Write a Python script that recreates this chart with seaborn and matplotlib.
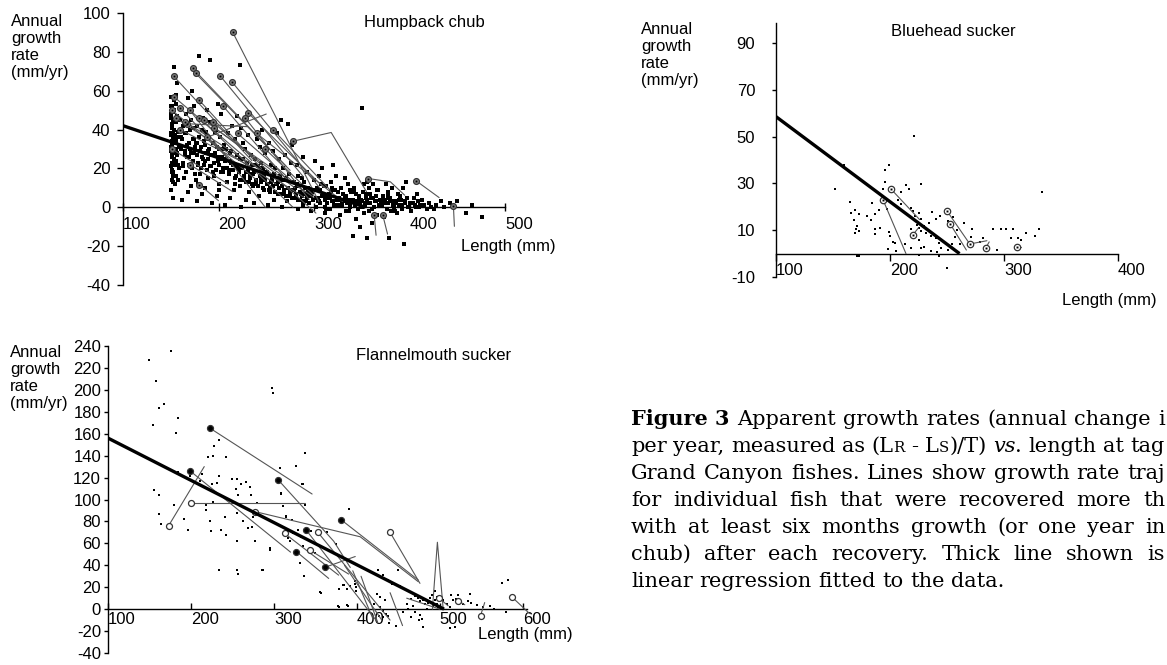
import matplotlib
matplotlib.use("Agg")
import matplotlib.pyplot as plt
import seaborn as sns
import pandas as pd

# ---------------- data ----------------
# Humpback chub: length at tagging (mm) and annual growth rate (mm/yr)
hb_len = [150,151,152,150,153,151,152,150,151,153,152,150,153,151,150,152,151,153,150,151,152,150,153,152,
          152,154,156,151,158,153,157,155,159,152,156,154,158,151,155,157,153,156,155,157,153,159,151,160,152,158,
          162,168,171,164,166,172,163,169,174,161,167,173,165,170,163,171,166,174,168,172,175,161,169,173,165,
          178,183,186,176,181,188,179,184,177,189,182,185,180,187,178,184,188,181,180,191,176,186,183,189,179,
          193,198,201,195,203,192,199,204,196,200,194,202,197,191,203,199,205,192,200,196,
          207,212,216,209,218,211,215,208,219,213,206,217,210,214,219,222,212,217,208,220,
          224,229,232,222,227,233,225,230,223,234,228,226,231,224,235,229,232,
          237,242,248,239,245,236,247,241,244,238,249,243,240,246,248,236,244,
          252,258,262,254,260,256,264,251,259,255,263,257,253,261,265,258,254,262,
          267,272,278,269,275,266,279,271,274,268,276,270,277,273,280,266,275,
          283,288,292,281,286,294,284,290,287,293,282,289,285,291,295,283,
          297,302,306,299,304,309,298,303,307,300,305,308,301,296,310,304,299,
          312,317,321,314,319,324,311,316,322,313,318,323,320,315,325,311,319,
          327,333,338,329,335,331,337,326,334,339,328,336,332,330,340,338,326,
          341,348,344,352,346,350,343,353,345,349,354,347,351,342,355,350,344,352,348,
          356,361,366,358,363,368,357,364,369,360,365,359,367,362,370,358,
          379,373,381,376,384,371,378,383,374,380,372,377,382,385,375,
          394,387,392,398,389,395,386,391,397,388,393,400,396,
          402,407,411,404,409,413,405,415,408,
          418,423,428,420,433,436,426,442,450,
          459,476,447,465]
hb_rate = [9,14,18,21,24,26,28,30,32,34,36,38,40,43,46,49,52,55,57,23,16,29,35,44,
           5,12,16,19,22,25,27,29,31,33,35,37,39,41,44,47,50,53,58,64,72,20,27,45,38,14,
           4,8,11,15,18,20,23,26,28,30,32,35,38,40,42,45,48,52,56,60,17,36,22,41,27,
           3,7,10,14,17,19,22,25,27,29,31,34,36,39,42,46,50,54,78,76,33,24,40,15,12,
           2,6,12,16,18,21,24,26,28,30,33,36,40,44,48,53,20,27,9,38,
           1,5,9,13,16,19,22,25,27,29,32,35,38,42,47,73,24,12,30,20,
           0,4,8,11,14,17,20,23,25,27,30,33,37,41,22,18,13,
           2,6,9,12,15,17,19,21,23,25,28,31,35,40,16,11,20,
           1,4,7,10,12,14,16,18,20,22,25,29,33,38,45,17,8,13,
           0,3,5,7,9,11,13,15,17,20,23,27,32,43,10,14,6,
           -1,1,3,5,7,9,11,13,15,18,22,26,4,10,7,16,
           -2,0,2,4,5,7,8,10,12,14,16,20,24,6,11,3,9,
           -3,-1,1,2,3,4,6,7,9,11,13,16,22,5,8,0,10,
           -4,-2,0,1,2,3,4,5,6,8,10,12,15,7,3,9,1,
           -15,-10,-6,-3,-1,0,1,2,3,4,5,6,8,10,13,51,7,12,2,
           -16,-8,-4,-2,0,1,2,3,4,5,6,7,9,12,3,10,
           -16,-5,-2,-1,0,1,2,3,4,5,6,8,10,2,12,
           -19,-3,-1,0,1,2,3,4,5,7,10,2,13,
           -2,0,1,2,3,4,5,1,7,
           -1,0,1,2,3,0,-1,2,3,
           -3,-5,0,1]
# dense central band of the humpback chub cloud
hb_len_band = [150,151,152,150,153,151,152,150,153,151,152,150,154,155,157,160,162,165,167,169,156,158,163,166,170,
               171,173,175,177,179,181,183,185,187,189,191,193,195,197,199,174,178,182,186,190,194,198,
               201,203,205,207,209,211,213,215,217,219,221,223,225,227,229,231,233,235,237,239,241,243,245,247,249,
               204,212,226,238,246,
               251,253,255,257,259,261,263,265,267,269,271,273,275,277,279,281,283,285,287,289,291,293,295,297,299,
               256,268,282,294,
               302,305,308,311,314,317,320,323,326,329,332,335,338,341,344,347,350,353,356,359,362,365,368,371,374,
               377,380,383,386,389,392,395,398,403,406,410,306,318,330,342,354,366,378,390,313,337,361,385]
hb_rate_band = [31,34,29,37,40,26,44,48,22,18,13,52,30,33,28,31,35,29,26,33,24,36,21,38,30,
                28,24,31,27,23,29,26,22,28,25,21,27,23,19,26,35,33,20,32,30,18,31,
                22,25,18,24,20,17,23,19,15,21,18,14,20,16,13,19,15,12,18,14,11,16,13,10,14,
                30,28,25,22,20,
                12,9,13,11,8,12,10,7,11,9,6,10,8,5,9,7,4,8,6,3,7,5,2,6,4,
                16,14,12,10,
                5,3,6,4,2,5,3,1,4,2,5,3,1,4,2,5,3,1,4,2,5,3,1,4,2,
                5,3,1,2,4,1,3,0,2,1,0,9,8,7,8,7,9,7,6,-1,-2,-1,-2]
hb_traj_x = [[215,305],[153,235],[173,271],[176,275],[202,289],[214,306],[153,247],[160,212],
             [231,310],[257,317],[278,318,355],[167,230],[188,250],[180,200],[170,249],[180,278],
             [194,302],[357,380,395],[407,431],[446,447],[363,365],[372,377],[249,300],[220,290],
             [151,240],[155,260],[160,230],[165,290],[185,280],[195,300],[205,270],[228,295],
             [240,330],[180,245],[151,210],[170,215]]
hb_traj_y = [[90,3],[67.5,24],[71.5,21],[69,19],[67.5,15.6],[64.6,10],[57,17.8],[51,24],
             [48.6,10.3],[40,8.8],[34,38.5,8],[43,41.5],[36,48],[11.7,3.4],[50,0],[46,0],
             [44,-3],[14.8,13.1,6.2],[13.6,5],[0.5,-9.8],[-4,-14.4],[-4,-13.8],[30,6],[38,8],
             [50,14],[46,12],[40,22],[44,5],[45,10],[41,5],[52,15],[46,4],
             [38,3],[55,20],[30,12],[22,8]]
hb_reg_x = [100, 354]
hb_reg_y = [42, 0]

# Bluehead sucker
bh_len = [221,199,196,196,227,214,210,193.5,217,165,184,169.5,173,180,187,190,197,207,210,171,172.5,187,191,199,
          203,204,200,218,220,225.5,222,227,223.5,225,227,230,232,234.5,237,240,244,236,240,243,218,222,225.5,
          218,227,251,255.5,258.5,257,254,245,251,257,265,272,271,282,290,293.5,301.5,306,315,319,327,330.5,
          333,172.5,225.5,250,152,166,168,170,169,183.6,186.8,171,312,308,297.7,160,198,205,213,230,236,241,261,279,243]
bh_rate = [50.4,38,35.6,30.6,29.9,29.4,26.5,27.4,27.4,21.9,21.6,18.5,17.1,16,16.7,18.8,19.2,22.8,21,11.7,9.6,8.3,11.1,9.4,
           5.1,4.4,7.6,19.6,18.2,17.2,16.1,14.7,12.4,11,9.6,11.7,8.8,13.1,17.6,14.7,16,7.4,6.7,4.6,10.3,8.2,6,
           2.4,2.4,14,15.7,10,7.1,3.9,2.4,1.7,1.7,12.9,10.6,7.1,6.7,10.3,1.7,10.3,6.7,6,8.8,7.4,10.3,
           26.4,-0.9,-0.5,-6.3,27.6,17.2,14.4,10.3,9,14.4,10.3,-1.1,6.6,10.3,10.6,38,2,1,4,3,1,0.5,4,5,-1]
bh_traj_x = [[201,226],[194,214],[220,225],[250,270],[270,285],[253,267],[284,287],[311,315]]
bh_traj_y = [[27.5,14.5],[22.8,0],[8,11],[18.2,4.1],[4.1,5.5],[12.5,1.5],[2.4,5],[2.8,2.8]]
bh_reg_x = [100, 261]
bh_reg_y = [58.5, 0]

# Flannelmouth sucker
fm_len = [176,149,158,161,168,154,184,182,156,161,161,164,180,197,192,184,199,211,213,220,227,228,234,242,218,218,
          223,224,226,225,234,231,241,236,242,249,255,254,260,257,266,271,272,256,263,269,275,277,234,255,257,286,
          256,295,295,298,299,307,309,315,315,317,327,335,337,311,279,273,391,329,339,345,333,323,319,335,343,327,
          332,336,287,364,375,349,361,378,384,392,398,388,399,356,377,388,426,432,438,442,424,428,434,420,428,432,
          438,472,474,476,480,482,486,488,490,494,496,498,500,504,508,512,516,522,528,534,476,478,480,512,518,432,
          435,337,334,308,314,322,357,383,399,398,390,389,379,449,452,494,496,504,513,519,523,536,537,575,582,565,
          580,456,465,475,427,439,447,460,465,468,470,462,484,492,545,552,560,470]
fm_rate = [235,227,208,183,187,168,174,161,109,104,87,78,95,72,82,125,121,117,123,139,140,149,154,139,95,90,
           80,71,98,114,121,115,84,72,68,119,119,110,114,104,116,111,104,88,80,74,84,62,36,36,32,36,
           62,56,54,202,197,129,106,84,69,65,131,114,95,94,97,75,91,72,72,71,66,69,62,58,56,53,
           42,30,36,70,59,51,39,18,22,21,23,18,17,16,3,4,36,31,27,23,14,11,8,5,2,-2,
           -6,13,10,7,8,5,6,10,13,8,5,2,11,7,5,2,8,13,5,7,-5,-9,-16,-17,-16,-7,
           -4,142,114,105,85,81,15,22,20,26,91,3,2,36,21,17,11,8,13,9,5,14,6,24,27,0,
           -3,-3,-7,-10,-6,-13,-15,5,9,3,12,0,0,3,4,2,3,-3]
fm_traj_x = [[173,216],[199,320],[200,337],[223,346],[305,372,392],[277,404,474],[381,474],[440,476],
             [313,378],[327,366],[343,390],[361,398],[353,440],[339,425],[395,420],[405,425],[385,430],
             [440,455],[491,497,504],[587,608],[549,554],[499,510],[522,530],[460,500]]
fm_traj_y = [[76,130],[126,52],[97,97],[165,105],[118,62,38],[89,66,25],[81.5,26.5],[70,23.5],
             [69,31],[52.5,28],[54,32],[38,48],[70,-10],[72,-12],[35,-10],[30,-12],[40,-10],
             [15,-15],[0,61,0],[11,-4],[-6,6],[10,3],[7.6,4],[10,0]]
fm_filled = [False,True,False,True,True,False,True,False,False,True,False,True,False,True,
             None,None,None,None,None,False,False,False,False,None]
fm_reg_x = [100, 505]
fm_reg_y = [156, 0]

hb_xticks = [100, 200, 300, 400, 500]
hb_yticks = [100, 80, 60, 40, 20, 0, -20, -40]
bh_xticks = [100, 200, 300, 400]
bh_yticks = [90, 70, 50, 30, 10, -10]
fm_xticks = [100, 200, 300, 400, 500, 600]
fm_yticks = [240, 220, 200, 180, 160, 140, 120, 100, 80, 60, 40, 20, 0, -20, -40]

ylabel_text = "Annual\ngrowth\nrate\n(mm/yr)"
titles = ["Humpback chub", "Bluehead sucker", "Flannelmouth sucker"]
xlabel_text = "Length (mm)"

# ---------------- figure ----------------
sns.set_theme(style="white")
plt.rcParams["font.family"] = ["Liberation Sans", "DejaVu Sans"]
plt.rcParams["axes.unicode_minus"] = False

W, H = 1167, 665
fig = plt.figure(figsize=(W / 100, H / 100), dpi=100)
fig.patch.set_facecolor("white")


def px_axes(left, top, right, bottom):
    return fig.add_axes([left / W, 1 - bottom / H, (right - left) / W, (bottom - top) / H])


def style_axes(ax, xlim, ylim, xt, yt, xdir, xlen, xpad, ylen, ypad):
    ax.set_xlim(*xlim)
    ax.set_ylim(*ylim)
    for s in ["top", "right"]:
        ax.spines[s].set_visible(False)
    ax.spines["bottom"].set_position(("data", 0))
    for s in ["left", "bottom"]:
        ax.spines[s].set_color("black")
        ax.spines[s].set_linewidth(1.0)
    ax.set_xticks(xt)
    ax.set_xticklabels([str(v) for v in xt], ha="left")
    ax.set_yticks(yt)
    ax.set_yticklabels([str(v) for v in yt])
    ax.tick_params(axis="x", direction=xdir, length=xlen, pad=xpad, width=1,
                   colors="black", labelsize=12, bottom=True)
    ax.tick_params(axis="y", direction="out", length=ylen, pad=ypad, width=1,
                   colors="black", labelsize=12, left=True)
    ax.set_xlabel("")
    ax.set_ylabel("")
    ax.grid(False)
    ax.patch.set_alpha(0)


def draw_panel(ax, lx, ly, tx, ty, rx, ry, filled=None, circ_face="#999999", circ_ms=4.5, dot_s=4):
    df = pd.DataFrame({"len": lx, "rate": ly})
    sns.scatterplot(data=df, x="len", y="rate", ax=ax, marker="s", s=dot_s,
                    color="black", linewidth=0, zorder=2, clip_on=False)
    for i, (xs, ys) in enumerate(zip(tx, ty)):
        ax.plot(xs, ys, color="#555555", lw=0.8, zorder=3, clip_on=False)
        f = None if filled is None else filled[i]
        if filled is not None and f is None:
            continue
        face = circ_face if filled is None else ("black" if f else "white")
        ax.plot(xs[0], ys[0], marker="o", ms=circ_ms, mfc=face, mec="#333333",
                mew=0.9, zorder=4, clip_on=False)
        if filled is None:
            ax.plot(xs[0], ys[0], marker="s", ms=1.4, mfc="black", mec="black",
                    mew=0, zorder=4.5, clip_on=False)
    ax.plot(rx, ry, color="black", lw=2.4, zorder=5, solid_capstyle="butt")


# Humpback chub
ax1 = px_axes(123, 13, 505, 285)
draw_panel(ax1, hb_len + hb_len_band, hb_rate + hb_rate_band, hb_traj_x, hb_traj_y,
           hb_reg_x, hb_reg_y, circ_face="#8a8a8a", circ_ms=4.2, dot_s=6)
style_axes(ax1, (100, 500), (-40, 100), hb_xticks, hb_yticks, "inout", 6, 4, 4, 5)

# Bluehead sucker
ax2 = px_axes(776, 23, 1118, 277)
draw_panel(ax2, bh_len, bh_rate, bh_traj_x, bh_traj_y, bh_reg_x, bh_reg_y,
           circ_face="white", circ_ms=4.6)
style_axes(ax2, (100, 400), (-10, 98.5), bh_xticks, bh_yticks, "out", 5, 2, 3, 12)

# Flannelmouth sucker
ax3 = px_axes(108, 346, 527, 653)
draw_panel(ax3, fm_len, fm_rate, fm_traj_x, fm_traj_y, fm_reg_x, fm_reg_y,
           filled=fm_filled, circ_ms=4.3)
style_axes(ax3, (100, 605), (-40, 240), fm_xticks, fm_yticks, "in", 4, 2, 3, 2)


def ftext(x, y, s, **kw):
    fig.text(x / W, 1 - y / H, s, **kw)


lab = dict(fontsize=12, color="black", family=["Liberation Sans", "DejaVu Sans"])
ftext(11, 14, ylabel_text, va="top", ha="left", linespacing=1.18, **lab)
ftext(641, 22, ylabel_text, va="top", ha="left", linespacing=1.18, **lab)
ftext(10, 345, ylabel_text, va="top", ha="left", linespacing=1.18, **lab)
ftext(364, 23, titles[0], va="center", ha="left", **lab)
ftext(891, 32, titles[1], va="center", ha="left", **lab)
ftext(356, 355, titles[2], va="center", ha="left", **lab)
ftext(461, 247, xlabel_text, va="center", ha="left", **lab)
ftext(1062, 300, xlabel_text, va="center", ha="left", **lab)
ftext(478, 635, xlabel_text, va="center", ha="left", **lab)

# ---------------- caption (justified, word by word) ----------------
cap_lines = [
    ([[("Figure", "b")], [("3", "b")], [("Apparent", "n")], [("growth", "n")], [("rates", "n")],
      [("(annual", "n")], [("change", "n")], [("i", "n")]], True),
    ([[("per", "n")], [("year,", "n")], [("measured", "n")], [("as", "n")], [("(L", "n"), ("R", "s")],
      [("-", "n")], [("L", "n"), ("S", "s"), (")/T)", "n")], [("vs", "i"), (".", "n")], [("length", "n")],
      [("at", "n")], [("tag", "n")]], True),
    ([[("Grand", "n")], [("Canyon", "n")], [("fishes.", "n")], [("Lines", "n")], [("show", "n")],
      [("growth", "n")], [("rate", "n")], [("traj", "n")]], True),
    ([[("for", "n")], [("individual", "n")], [("fish", "n")], [("that", "n")], [("were", "n")],
      [("recovered", "n")], [("more", "n")], [("th", "n")]], True),
    ([[("with", "n")], [("at", "n")], [("least", "n")], [("six", "n")], [("months", "n")],
      [("growth", "n")], [("(or", "n")], [("one", "n")], [("year", "n")], [("in", "n")]], True),
    ([[("chub)", "n")], [("after", "n")], [("each", "n")], [("recovery.", "n")], [("Thick", "n")],
      [("line", "n")], [("shown", "n")], [("is", "n")]], True),
    ([[("linear", "n")], [("regression", "n")], [("fitted", "n")], [("to", "n")], [("the", "n")],
      [("data.", "n")]], False),
]

renderer = fig.canvas.get_renderer()
cap_size = 15
cap_left, cap_right = 631, 1165
base0, dy = 425, 27
for li, (words, justify) in enumerate(cap_lines):
    yb = base0 + li * dy
    built = []
    total = 0.0
    for word in words:
        segs = []
        wsum = 0.0
        for txt, st in word:
            kw = dict(fontsize=cap_size, family="DejaVu Serif", color="black", va="baseline", ha="left")
            if st == "b":
                kw["fontweight"] = "bold"
            if st == "i":
                kw["fontstyle"] = "italic"
            if st == "s":
                kw["fontsize"] = cap_size * 0.72
            t = fig.text(0, 1 - yb / H, txt, **kw)
            w = t.get_window_extent(renderer).width
            segs.append((t, w))
            wsum += w
        built.append(segs)
        total += wsum
    space = cap_size * 100 / 72 * 0.32
    if justify and len(built) > 1:
        gap = max((cap_right - cap_left - total) / (len(built) - 1), space * 0.6)
    else:
        gap = space
    x = cap_left
    for segs in built:
        for t, w in segs:
            t.set_x(x / W)
            x += w
        x += gap

fig.savefig("out.png", dpi=100, facecolor="white")
